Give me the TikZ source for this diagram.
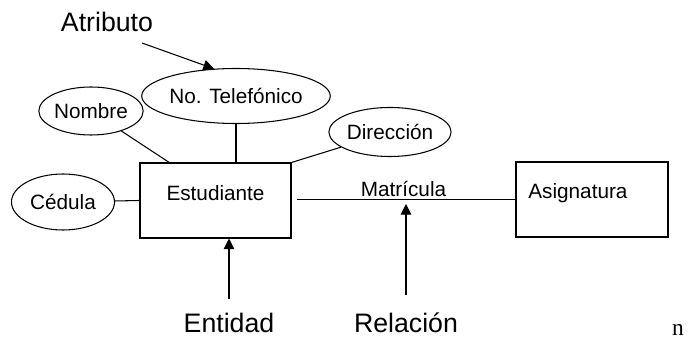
\documentclass[tikz,border=0pt]{standalone}
\usepackage{fontspec}
\setmainfont{Liberation Sans}
\newfontfamily\serifn{Liberation Serif}
\usetikzlibrary{arrows.meta}
\usetikzlibrary{shapes.geometric}
\tikzset{txt/.style={font=\fontsize{17.7}{20}\selectfont}}
\tikzset{big/.style={font=\fontsize{22.8}{26}\selectfont, inner sep=0pt}}
\tikzset{atrib/.style={shape=ellipse, draw=black, line width=0.9pt, inner sep=0pt, txt}}
\tikzset{entid/.style={shape=rectangle, draw=black, line width=0.9pt, minimum width=4.53cm, minimum height=2.25cm}}
\tikzset{arr/.style={line width=0.9pt, -{Triangle[length=9pt,width=9pt]}}}

\begin{document}
\begin{tikzpicture}[x=0.03cm, y=-0.03cm, line width=0.9pt]
    \useasboundingbox (0,0) rectangle (700,343);

    \node[entid, label={[txt, yshift=6.4pt]center:Estudiante}] (est) at (215.5,200.5) {};
    \node[entid, minimum width=4.56cm, label={[txt, xshift=-12pt, yshift=5.5pt]center:Asignatura}] (asig) at (592,199.5) {};
    \node[atrib, minimum width=5.34cm, minimum height=1.65cm] (tel) at (236,96) {No. Telefónico};
    \node[atrib, minimum width=3.06cm, minimum height=1.44cm] (nom) at (91,111) {Nombre};
    \node[atrib, minimum width=3.63cm, minimum height=1.47cm] (dir) at (390,132) {Dirección};
    \node[atrib, minimum width=3.09cm, minimum height=1.68cm] (ced) at (63,202) {Cédula};
    \node[big] (atr) at (107,22) {Atributo};
    \node[big] (ent) at (229,323) {Entidad};
    \node[big] (rela) at (406,323) {Relación};
    \node[font=\serifn\fontsize{20}{24}\selectfont, inner sep=0pt] (nn) at (678,330) {n};

    \coordinate (atrS) at (142,43);
    \coordinate (nomE) at (170,163);
    \coordinate (relE) at (406,204);

    % atributos
    \draw (tel.south) -- (tel.south |- est.north);
    \draw (nom) -- (nomE);
    \draw (dir) -- (est.north east);
    \draw (ced) -- (est.west);
    % relacion
    \draw[shorten <=5pt] (est.east |- asig.west) -- (asig.west) node[txt, midway, above, inner sep=2pt] (mat) {Matrícula};
    % flechas
    \draw[arr] (atrS) -- (tel.129);
    \draw[arr, shorten <=11.5pt] (ent.north) -- (ent.north |- est.south);
    \draw[arr, shorten <=15pt] (rela.north) -- (relE);

\end{tikzpicture}
\end{document}
